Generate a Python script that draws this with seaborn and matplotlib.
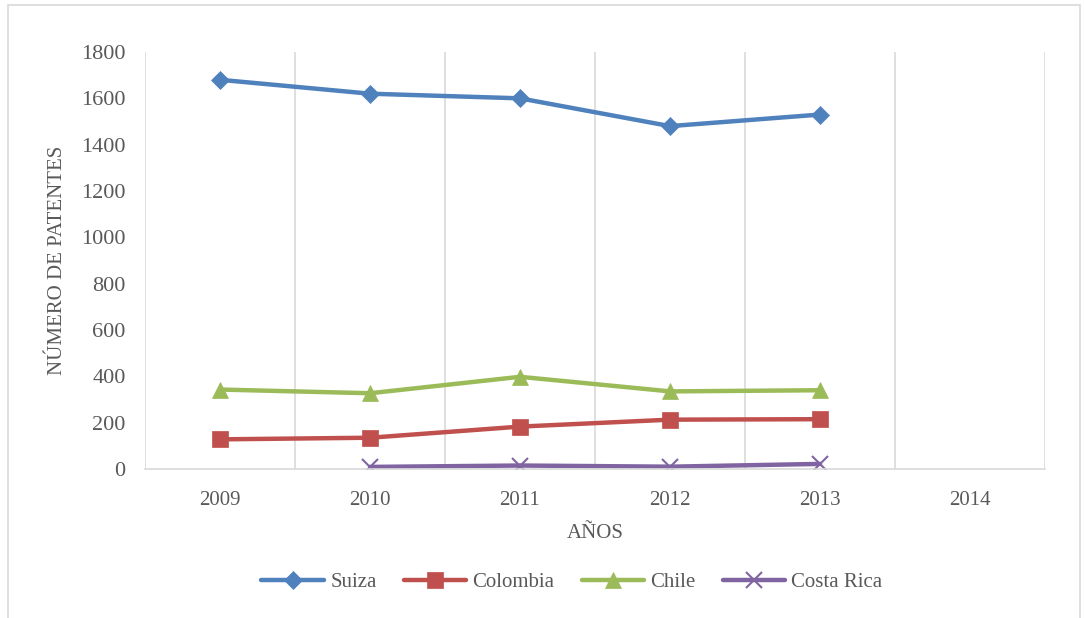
import numpy as np
import pandas as pd
import matplotlib
matplotlib.use("Agg")
import matplotlib.pyplot as plt
from matplotlib.patches import Rectangle
import seaborn as sns

years = [2009, 2010, 2011, 2012, 2013, 2014]
suiza = [1680, 1620, 1600, 1480, 1530, np.nan]
colombia = [128, 135, 183, 213, 215, np.nan]
chile = [343, 327, 398, 335, 340, np.nan]
costa_rica = [np.nan, 9, 15, 10, 22, np.nan]

series = {"Suiza": suiza, "Colombia": colombia, "Chile": chile, "Costa Rica": costa_rica}
colors = {"Suiza": "#4F81BD", "Colombia": "#C0504D", "Chile": "#9BBB59", "Costa Rica": "#8064A2"}
markers = {"Suiza": "D", "Colombia": "s", "Chile": "^", "Costa Rica": "x"}
msizes = {"Suiza": 9, "Colombia": 11, "Chile": 11, "Costa Rica": 11}

sns.set_theme(style="white")
plt.rcParams["font.family"] = ["Liberation Serif", "DejaVu Serif"]

fig = plt.figure(figsize=(10.84, 6.18), dpi=100)
ax = fig.add_axes([145/1084, 1-469/618, 900/1084, 417/618])

pos = np.arange(len(years))
for name, vals in series.items():
    df = pd.DataFrame({"x": pos, "y": vals}).dropna()
    sns.lineplot(data=df, x="x", y="y", ax=ax, color=colors[name], lw=3.2,
                 marker=markers[name], markersize=msizes[name],
                 markeredgecolor=colors[name], markeredgewidth=1.5 if name == "Costa Rica" else 0.5,
                 label=name)

ax.set_xlim(-0.5, len(years) - 0.5)
ax.set_ylim(0, 1800)
ax.set_yticks(range(0, 1801, 200))
ax.set_xticks(pos)
ax.set_xticklabels([str(y) for y in years])
ax.set_xticks(np.arange(-0.5, len(years), 1), minor=True)
ax.grid(False)
ax.grid(True, which="minor", axis="x", color="#D9D9D9", lw=1.2)
for s in ["left", "right", "top"]:
    ax.spines[s].set_visible(False)
ax.spines["bottom"].set_color("#D9D9D9")
ax.spines["bottom"].set_linewidth(1.2)
ax.tick_params(axis="both", which="both", length=0, colors="#595959")
ax.tick_params(axis="y", labelsize=16, pad=14)
ax.tick_params(axis="x", labelsize=15, pad=16)

ax.set_xlabel("AÑOS", fontsize=15, color="#595959", labelpad=10)
ax.set_ylabel("NÚMERO DE PATENTES", fontsize=15, color="#595959", labelpad=10)

leg = ax.legend(loc="center", bbox_to_anchor=(572/1084, 1-582/618), bbox_transform=fig.transFigure,
                ncol=4, frameon=False, fontsize=15, handlelength=3.0, columnspacing=1.3,
                handletextpad=0.3)
for t in leg.get_texts():
    t.set_color("#595959")

fig.patches.append(Rectangle((8/1084, -0.05), 1072/1084, 1.05 - 5/618, transform=fig.transFigure,
                             fill=False, edgecolor="#D9D9D9", lw=1.2))

fig.savefig("out.png", dpi=100, facecolor="white")
